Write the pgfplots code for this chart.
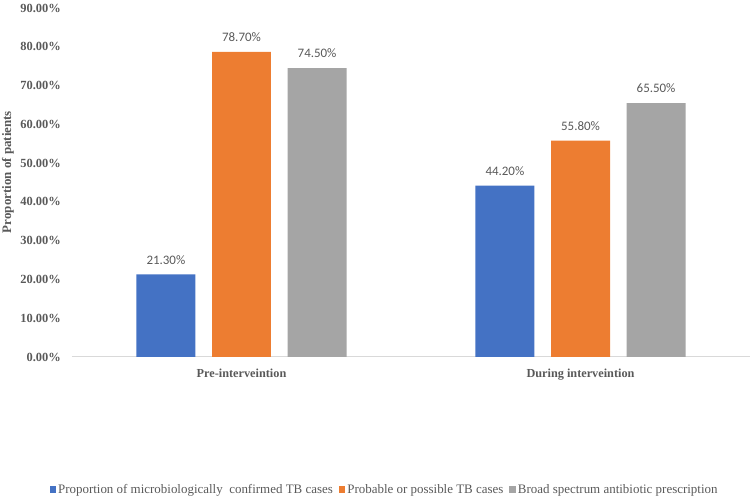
\documentclass[border=0pt]{standalone}
\usepackage{pgfplots}
\pgfplotsset{compat=1.18}
\usepackage{fontspec}
\setmainfont{Liberation Serif}
\newfontfamily\lblfont{Carlito}
\definecolor{cblue}{HTML}{4472C4}
\definecolor{corange}{HTML}{ED7D31}
\definecolor{cgray}{HTML}{A5A5A5}
\definecolor{txt}{HTML}{595959}
\definecolor{axl}{HTML}{D9D9D9}
\begin{document}
\begin{tikzpicture}[x=1bp,y=1bp]
\useasboundingbox (-72,-143) rectangle (678,357);
\begin{axis}[
  at={(0,0)}, anchor=south west, scale only axis,
  width=678bp, height=349bp,
  xmin=-0.5, xmax=1.5, ymin=0, ymax=90,
  axis x line*=bottom, axis y line*=left,
  x axis line style={draw=axl, line width=1bp, -},
  y axis line style={draw=none},
  major tick length=0pt,
  ytick={0,10,...,90},
  yticklabel={\pgfmathprintnumber[fixed,fixed zerofill,precision=2]{\tick}\%},
  /pgf/number format/assume math mode=true,
  yticklabel style={font=\bfseries\fontsize{12.5}{14}\selectfont, color=txt, anchor=east, inner sep=0pt, xshift=-11bp},
  xtick={0,1},
  xticklabels={Pre-interveintion, During interveintion},
  xticklabel style={font=\bfseries\fontsize{12.3}{14}\selectfont, color=txt, anchor=north, inner sep=0pt, yshift=-12bp},
  every axis y label/.style={at={(axis description cs:0,0.53)}, xshift=-64bp, rotate=90, anchor=center},
  ylabel={Proportion of patients},
  ylabel style={font=\bfseries\fontsize{13}{14}\selectfont, color=txt},
  legend style={at={(axis description cs:0.461,-0.381)}, anchor=center, draw=none, fill=none,
     legend columns=-1, font=\fontsize{13}{15}\selectfont, text=txt,
     /tikz/every odd column/.append style={column sep=0bp},
     /tikz/every even column/.append style={column sep=4bp}},
  legend cell align=left,
  nodes near coords={\pgfmathprintnumber[fixed,fixed zerofill,precision=2]{\pgfplotspointmeta}\%},
  nodes near coords style={font=\lblfont\fontsize{13}{15}\selectfont, color=txt, anchor=south, inner sep=0pt, yshift=10bp},
]
\addplot[ybar, bar shift=0pt, bar width=0.174, fill=cblue, draw=none,
  legend image code/.code={\fill[cblue] (0bp,-3.5bp) rectangle (6.5bp,3.5bp);}]
  coordinates {(-0.223,21.3) (0.777,44.2)};
\addlegendentry{Proportion of microbiologically\ \ confirmed TB cases}
\addplot[ybar, bar shift=0pt, bar width=0.174, fill=corange, draw=none,
  legend image code/.code={\fill[corange] (0bp,-3.5bp) rectangle (6.5bp,3.5bp);}]
  coordinates {(0,78.7) (1,55.8)};
\addlegendentry{Probable or possible TB cases}
\addplot[ybar, bar shift=0pt, bar width=0.174, fill=cgray, draw=none,
  legend image code/.code={\fill[cgray] (0bp,-3.5bp) rectangle (6.5bp,3.5bp);}]
  coordinates {(0.223,74.5) (1.223,65.5)};
\addlegendentry{Broad spectrum antibiotic prescription}
\end{axis}
\end{tikzpicture}
\end{document}
